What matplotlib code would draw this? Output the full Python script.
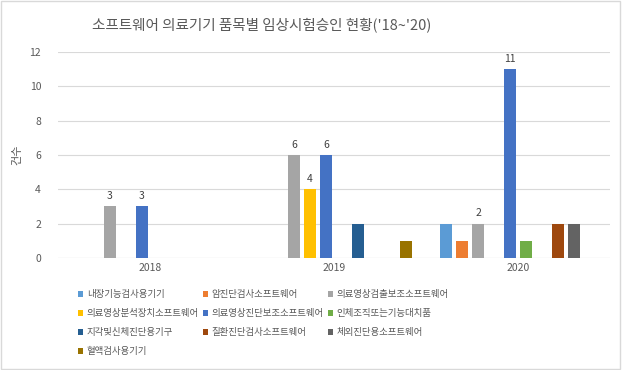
import matplotlib.pyplot as plt
from matplotlib.patches import Rectangle
import numpy as np

plt.rcParams['font.family'] = ['Noto Sans CJK KR', 'DejaVu Sans']

years = ['2018', '2019', '2020']
series_names = ['내장기능검사용기기', '암진단검사소프트웨어', '의료영상검출보조소프트웨어',
                '의료영상분석장치소프트웨어', '의료영상진단보조소프트웨어', '인체조직또는기능대치품',
                '지각및신체진단용기구', '질환진단검사소프트웨어', '체외진단용소프트웨어',
                '혈액검사용기기']
values = [
    [0, 0, 2],
    [0, 0, 1],
    [3, 6, 2],
    [0, 4, 0],
    [3, 6, 11],
    [0, 0, 1],
    [0, 2, 0],
    [0, 0, 2],
    [0, 0, 2],
    [0, 1, 0],
]
labeled = [2, 3, 4]  # series that show data labels
colors = ['#5B9BD5', '#ED7D31', '#A5A5A5', '#FFC000', '#4472C4',
          '#70AD47', '#255E91', '#9E480E', '#636363', '#997300']

fig = plt.figure(figsize=(6.22, 3.70), dpi=100)
ax = fig.add_axes([0.093, 0.303, 0.888, 0.556])

x = np.arange(len(years))
n = len(series_names)
slot = 0.087
width = 0.065
handles = []
for i, (name, vals, c) in enumerate(zip(series_names, values, colors)):
    pos = x + (i - (n - 1) / 2) * slot
    b = ax.bar(pos, vals, width, color=c, label=name, zorder=3)
    handles.append(b)
    if i in labeled:
        for p, v in zip(pos, vals):
            if v > 0:
                ax.text(p, v + 0.3, str(v), ha='center', va='bottom',
                        fontsize=7.5, color='#404040')

ax.set_xlim(-0.5, 2.5)
ax.set_ylim(0, 12)
ax.set_yticks(range(0, 13, 2))
ax.set_xticks(x)
ax.set_xticklabels(years)
ax.tick_params(length=0, labelsize=7.5, colors='#595959')
ax.tick_params(axis='y', pad=12)
ax.grid(axis='y', color='#D9D9D9', linewidth=0.8, zorder=0)
for s in ax.spines.values():
    s.set_visible(False)
ax.axhline(0, color='#D9D9D9', linewidth=0.8, zorder=1)
ax.set_ylabel('건수', fontsize=8, color='#595959')
ax.yaxis.set_label_coords(-0.065, 0.5)

fig.suptitle("소프트웨어 의료기기 품목별 임상시험승인 현황('18~'20)",
             x=0.42, y=0.952, fontsize=10.5, color='#595959')

# legend filled row by row (matplotlib fills by column)
order = [0, 3, 6, 9, 1, 4, 7, 2, 5, 8]
fig.legend(handles=[handles[k] for k in order],
           labels=[series_names[k] for k in order], ncol=3, loc='upper left',
           bbox_to_anchor=(0.125, 0.215), frameon=False, fontsize=6.8,
           labelcolor='#595959', handlelength=0.6, handleheight=0.6,
           handletextpad=0.35, columnspacing=0.4, labelspacing=1.05,
           borderaxespad=0, borderpad=0)

fig.patches.append(Rectangle((0.002, 0.003), 0.995, 0.994, transform=fig.transFigure,
                             fill=False, edgecolor='#D9D9D9', linewidth=1))

fig.savefig('out.png', dpi=100)
